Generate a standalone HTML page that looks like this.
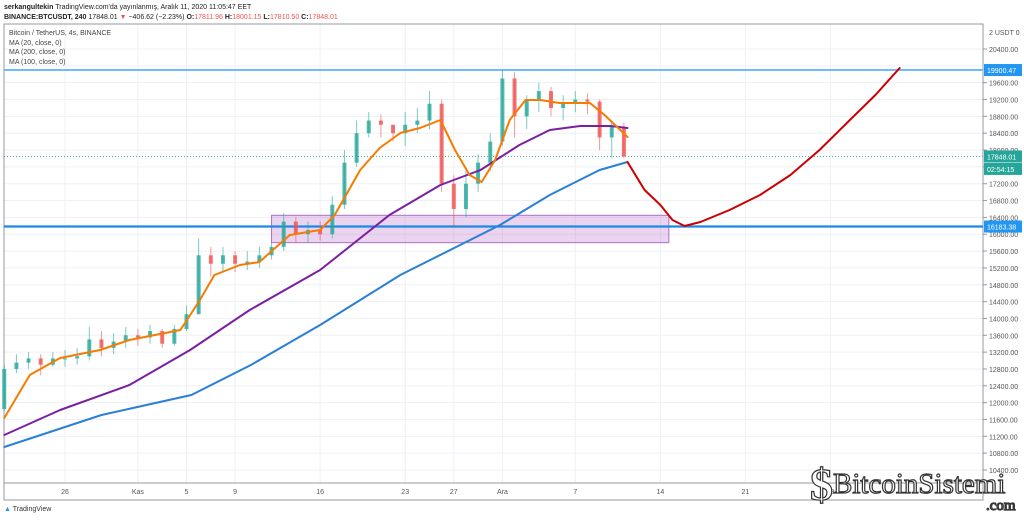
<!DOCTYPE html>
<html><head><meta charset="utf-8"><style>
body{margin:0;background:#fff;width:1024px;height:521px;overflow:hidden;font-family:"Liberation Sans",sans-serif}
svg text{font-family:"Liberation Sans",sans-serif}
</style></head><body>
<svg id="c" width="1024" height="521"></svg>
<script>
const yTicks=[10400,10800,11200,11600,12000,12400,12800,13200,13600,14000,14400,14800,15200,15600,16000,16400,16800,17200,17600,18000,18400,18800,19200,19600,20000,20400];
const xTickLabels=["26","Kas","5","9","16","23","27","Ara","7","14","21","28"];
const xTickDays=[0,6,10,14,21,28,32,36,42,49,56,63];
const candleDays=[-5,-4,-3,-2,-1,0,1,2,3,4,5,6,7,8,9,10,11,12,13,14,15,16,17,18,19,20,21,22,23,24,25,26,27,28,29,30,31,32,33,34,35,36,37,38,39,40,41,42,43,44,45,46];
const closes=[12800,12950,13050,12900,13050,13050,13100,13500,13300,13450,13600,13550,13700,13400,13750,14100,15500,15300,15500,15300,15350,15500,15700,16300,16000,16100,16000,16700,17700,18400,18700,18600,18400,18600,18700,19100,17200,16600,17200,17700,18200,19700,18800,19200,19400,19000,19100,19200,19150,18300,18550,17848];
const highs=[12900,13150,13200,13150,13200,13250,13300,13800,13700,13650,13800,13750,13850,13750,13850,14300,15900,15700,15700,15600,15600,15700,15800,16500,16400,16300,16300,16900,18000,18700,18900,18850,18600,18900,19000,19400,19200,17400,17500,17900,18400,19900,19850,19300,19600,19500,19300,19400,19350,19200,18700,18650];
const lows=[11800,12700,12800,12650,12850,12850,12900,13000,13100,13150,13300,13350,13400,13300,13350,13700,14100,15000,15100,15100,15150,15200,15400,15600,15800,15800,15850,15900,16600,17600,18300,18300,18200,18100,18400,18500,17000,16200,16400,17000,17500,18100,18300,18500,18900,18800,18700,18900,18850,18000,17800,17800];
const ma20Days=[-5,-2.9,-0.4,2.9,5.3,9.5,11.1,12.3,14.4,16,18.5,21,22.2,24.3,25.9,27.6,29.2,30.9,32.1,33.3,34.3,35.4,36.6,37.9,39.1,40.7,43.2,44.4,45.7,46.3];
const ma20Vals=[11635,12657,13060,13250,13488,13726,14438,15032,15270,15341,15982,16101,16457,17526,18049,18405,18524,18714,18001,17407,17241,17763,18714,19189,19189,19117,19117,18832,18476,18310];
const ma100Days=[-5,-0.4,5.3,10.3,15.2,21,26.7,30.9,34.2,37.4,39.9,42.4,44.9,46.3];
const ma100Vals=[11231,11825,12419,13250,14200,15151,16457,17170,17526,18120,18476,18571,18571,18524];
const ma200Days=[-5,3,10.4,15.3,21,27.6,31.7,35.8,39.9,44,46.3];
const ma200Vals=[10946,11707,12182,12894,13844,15032,15626,16220,16932,17526,17716];
const projDays=[46.3,47.7,49,50,51,52.3,54.7,57.2,59.7,62.1,64.6,66.7,68.7];
const projVals=[17716,17051,16695,16338,16196,16290,16576,16932,17407,18001,18714,19307,19949];
const levels=[19900.47,16183.38];
const zoneTop=16450, zoneBottom=15800, zoneStart=17.0, zoneEnd=49.7;
const lastPrice=17848.01;

const X=d=>65+d*12.15;
const Y=p=>49+(20400-p)/400*16.84;
const svg=document.getElementById('c');
const NS='http://www.w3.org/2000/svg';
function mk(tag,attrs,parent){const e=document.createElementNS(NS,tag);for(const k in attrs)e.setAttribute(k,attrs[k]);(parent||svg).appendChild(e);return e;}
const grid=mk('g',{});


yTicks.forEach(t=>{mk('line',{x1:4,x2:983,y1:Y(t),y2:Y(t),stroke:'#edf1f5'},grid);});
xTickDays.forEach(d=>{mk('line',{x1:X(d),x2:X(d),y1:24,y2:483,stroke:'#edf1f5'},grid);});
mk('rect',{x:4,y:24,width:979,height:476,fill:'none',stroke:'#9598a1'});
mk('line',{x1:4,x2:983,y1:483,y2:483,stroke:'#9598a1'});
const yl=mk('g',{});


yTicks.forEach(t=>{if(t===20000)return;mk('line',{x1:983,x2:987,y1:Y(t),y2:Y(t),stroke:'#9598a1'},yl);const tx=mk('text',{x:989,y:Y(t)+3,'font-size':7,fill:'#555'},yl);tx.textContent=t.toFixed(2);});
const u=mk('text',{x:989,y:35,'font-size':7,fill:'#555'});u.textContent='2 USDT 0';
const xl=mk('g',{});


xTickLabels.forEach((l,i)=>{const tx=mk('text',{x:X(xTickDays[i]),y:494,'font-size':7,fill:'#555','text-anchor':'middle'},xl);tx.textContent=l;});
const z=mk('rect',{x:X(zoneStart),y:Y(zoneTop),width:X(zoneEnd)-X(zoneStart),height:Y(zoneBottom)-Y(zoneTop),fill:'rgba(156,39,176,0.2)',stroke:'#b16dc7'});


levels.forEach((lv,i)=>{const ln=mk('line',{x1:4,x2:983,y1:Y(lv),y2:Y(lv),stroke:i?'#1e88e5':'#5cb3f7','stroke-width':i?2.2:1.8});

});
mk('line',{x1:4,x2:983,y1:Y(lastPrice),y2:Y(lastPrice),stroke:'#26a69a','stroke-dasharray':'1 2','stroke-width':0.8});
const cg=mk('g',{});


closes.forEach((c,i)=>{const o=i?closes[i-1]:11850;const up=c>=o;const col=up?'#26a69a':'#ef5350';const x=X(candleDays[i]);
mk('line',{x1:x,x2:x,y1:Y(highs[i]),y2:Y(lows[i]),stroke:col,'stroke-width':1,opacity:0.6},cg);
const b=mk('rect',{x:x-2,y:Y(Math.max(o,c)),width:4,height:Math.max(1,Math.abs(Y(o)-Y(c))),fill:col,opacity:0.8},cg);

});
function line(days,vals,col,w,name){const d=days.map((t,i)=>(i?'L':'M')+X(t).toFixed(1)+','+Y(vals[i]).toFixed(1)).join('');const p=mk('path',{d:d,fill:'none',stroke:col,'stroke-width':w,'stroke-linejoin':'round','stroke-linecap':'round'});}
line(ma200Days,ma200Vals,'#2a7fd6',2,'ma-200-line');
line(ma100Days,ma100Vals,'#7b1fa2',2,'ma-100-line');
line(ma20Days,ma20Vals,'#f57c00',2,'ma-20-line');
line(projDays,projVals,'#cc0000',2,'projection-line');
function tag(p,txt,col,name,dy){const y=Y(p)+(dy||0);const r=mk('rect',{x:984,y:y-6,width:38,height:12,fill:col});const t=mk('text',{x:987,y:y+3,'font-size':7,fill:'#fff'});t.textContent=txt;}
tag(levels[0],'19900.47','#2196f3','resistance-price-tag');
tag(lastPrice,'17848.01','#26a69a','last-price-tag');
tag(lastPrice,'02:54:15','#26a69a','countdown-tag',12.5);
tag(levels[1],'16183.38','#2196f3','support-price-tag');
</script>
<div style="position:absolute;left:4px;top:3px;font-size:7px;color:#222;line-height:10px">
<div><b>serkangultekin</b> TradingView.com'da yayınlanmış, Aralık 11, 2020 11:05:47 EET</div>
<div><b>BINANCE:BTCUSDT, 240</b> 17848.01 <span style="color:#ef5350">▼</span> −406.62 (−2.23%) <b>O:</b><span style="color:#ef5350">17811.96</span> <b>H:</b><span style="color:#ef5350">18001.15</span> <b>L:</b><span style="color:#ef5350">17810.50</span> <b>C:</b><span style="color:#ef5350">17848.01</span></div>
</div>
<div style="position:absolute;left:9px;top:29px;font-size:7px;color:#444;line-height:9.5px">
<div>Bitcoin / TetherUS, 4s, BINANCE</div><div>MA (20, close, 0)</div><div>MA (200, close, 0)</div><div>MA (100, close, 0)</div></div>
<div style="position:absolute;left:4px;top:506px;font-size:7px;color:#333"><span style="color:#2196f3">▲</span> TradingView</div>
<div style="position:absolute;left:810px;top:458px;color:#fff;-webkit-text-stroke:1.2px #333">
<span style="font-size:46px;font-weight:bold;font-family:'Liberation Serif',serif;vertical-align:middle">$</span><span style="font-size:29px;font-family:'Liberation Serif',serif;vertical-align:middle">BitcoinSistemi</span>
<div style="position:absolute;left:176px;top:40px;font-size:15px;font-family:'Liberation Serif',serif">.com</div></div>
</body></html>
